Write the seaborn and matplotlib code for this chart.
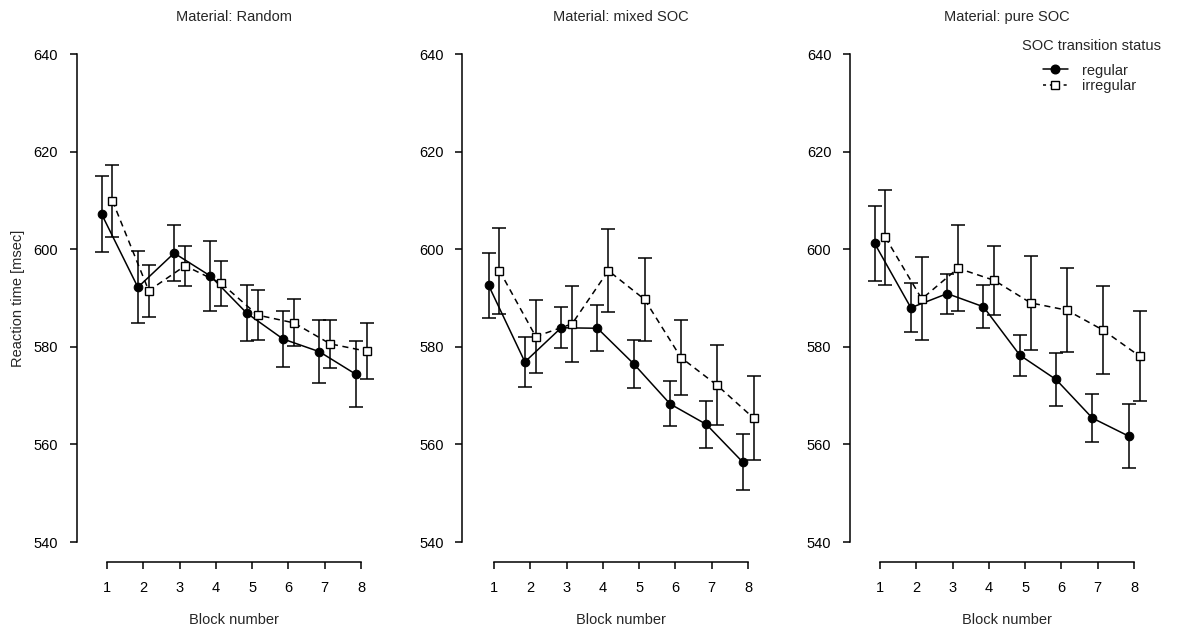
import numpy as np
import pandas as pd
import matplotlib
matplotlib.use("Agg")
import matplotlib.pyplot as plt
from matplotlib.lines import Line2D
import seaborn as sns

# ---- data ----
blocks = [1, 2, 3, 4, 5, 6, 7, 8]
materials = ["Random", "mixed SOC", "pure SOC"]
statuses = ["regular", "irregular"]

random_reg = [607.2, 592.2, 599.2, 594.5, 586.9, 581.6, 579.0, 574.4]
random_reg_err = [7.8, 7.4, 5.8, 7.2, 5.7, 5.8, 6.5, 6.8]
random_irr = [609.9, 591.5, 596.6, 593.0, 586.5, 584.9, 580.6, 579.1]
random_irr_err = [7.3, 5.3, 4.1, 4.6, 5.1, 4.8, 4.9, 5.7]

mixed_reg = [592.6, 576.9, 583.9, 583.8, 576.5, 568.3, 564.1, 556.4]
mixed_reg_err = [6.7, 5.2, 4.2, 4.7, 4.9, 4.6, 4.8, 5.7]
mixed_irr = [595.6, 582.1, 584.7, 595.6, 589.7, 577.8, 572.1, 565.4]
mixed_irr_err = [8.8, 7.5, 7.8, 8.5, 8.5, 7.6, 8.2, 8.6]

pure_reg = [601.2, 588.0, 590.9, 588.2, 578.3, 573.3, 565.4, 561.7]
pure_reg_err = [7.7, 5.0, 4.1, 4.4, 4.2, 5.5, 4.9, 6.5]
pure_irr = [602.4, 589.8, 596.1, 593.6, 589.0, 587.5, 583.4, 578.1]
pure_irr_err = [9.7, 8.5, 8.8, 7.1, 9.6, 8.6, 9.0, 9.2]

y_ticks = [540, 560, 580, 600, 620, 640]

series = {
    "Random": (random_reg, random_reg_err, random_irr, random_irr_err),
    "mixed SOC": (mixed_reg, mixed_reg_err, mixed_irr, mixed_irr_err),
    "pure SOC": (pure_reg, pure_reg_err, pure_irr, pure_irr_err),
}

rows = []
for m in materials:
    reg, reg_e, irr, irr_e = series[m]
    for b, v, e in zip(blocks, reg, reg_e):
        rows.append(dict(material=m, status="regular", block=b, x=b - 0.15, rt=v, err=e))
    for b, v, e in zip(blocks, irr, irr_e):
        rows.append(dict(material=m, status="irregular", block=b, x=b + 0.15, rt=v, err=e))
df = pd.DataFrame(rows)

# ---- style ----
sns.set_style("ticks")
plt.rcParams["font.family"] = ["Liberation Sans", "DejaVu Sans"]
FS = 10.5
plt.rcParams["font.size"] = FS

W, H = 1178, 630
fig = plt.figure(figsize=(W / 100, H / 100), dpi=100)

px2pt = 72 / 100
lefts = [90.7, 477.7, 863.7]
spine_x = [77, 462.3, 850]
ax_w = 286.7
ax_top, ax_bot = 54, 542

for i, m in enumerate(materials):
    ax = fig.add_axes([lefts[i] / W, 1 - ax_bot / H, ax_w / W, (ax_bot - ax_top) / H])
    sub = df[df.material == m]
    for st in statuses:
        s = sub[sub.status == st]
        ax.errorbar(s["x"], s["rt"], yerr=s["err"], fmt="none", ecolor="black",
                    elinewidth=1.1, capsize=5, capthick=1.1, zorder=2)
    sns.lineplot(data=sub[sub.status == "regular"], x="x", y="rt", ax=ax,
                 color="black", lw=1.1, marker="o", markersize=6.2,
                 markerfacecolor="black", markeredgecolor="black", zorder=3,
                 estimator=None, sort=False, legend=False)
    sns.lineplot(data=sub[sub.status == "irregular"], x="x", y="rt", ax=ax,
                 color="black", lw=1.1, marker="s", markersize=5.2,
                 markerfacecolor="white", markeredgecolor="black", markeredgewidth=1.0,
                 linestyle=(0, (4, 3)), zorder=3, estimator=None, sort=False, legend=False)
    ax.set_xlim(0.55, 8.45)
    ax.set_ylim(540, 640)
    ax.set_xticks(blocks)
    ax.set_xticklabels([str(b) for b in blocks])
    ax.set_yticks(y_ticks)
    ax.set_yticklabels([str(t) for t in y_ticks])
    ax.spines["top"].set_visible(False)
    ax.spines["right"].set_visible(False)
    ax.spines["left"].set_position(("outward", (lefts[i] - spine_x[i]) * px2pt))
    ax.spines["bottom"].set_position(("outward", 20 * px2pt))
    ax.spines["left"].set_bounds(540, 640)
    ax.spines["bottom"].set_bounds(1, 8)
    for sp in ["left", "bottom"]:
        ax.spines[sp].set_linewidth(1.1)
        ax.spines[sp].set_color("black")
    ax.tick_params(axis="both", direction="out", length=5, width=1.1,
                   colors="black", labelsize=FS)
    ax.tick_params(axis="x", pad=9)
    ax.tick_params(axis="y", pad=8.5)
    ax.set_xlabel("Block number", fontsize=FS, labelpad=12.5)
    if i == 0:
        ax.set_ylabel("Reaction time [msec]", fontsize=FS, labelpad=6.5)
    else:
        ax.set_ylabel("")
    ax.set_title(f"Material: {m}", fontsize=FS, pad=24)
    ax.grid(False)

handles = [
    Line2D([], [], color="black", lw=1.1, marker="o", markersize=6.2,
           markerfacecolor="black"),
    Line2D([], [], color="black", lw=1.1, marker="s", markersize=5.2,
           markerfacecolor="white", linestyle=(0, (2, 2.5))),
]
fig.text(1091 / W, 1 - 46 / H, "SOC transition status", ha="center", va="center",
         fontsize=FS)
fig.legend(handles, statuses, frameon=False, loc="upper left",
           bbox_to_anchor=(1043 / W, 1 - 63.5 / H), borderpad=0, borderaxespad=0,
           fontsize=FS, handlelength=1.7, handletextpad=1.0, labelspacing=0.12)

fig.savefig("out.png", dpi=100)
